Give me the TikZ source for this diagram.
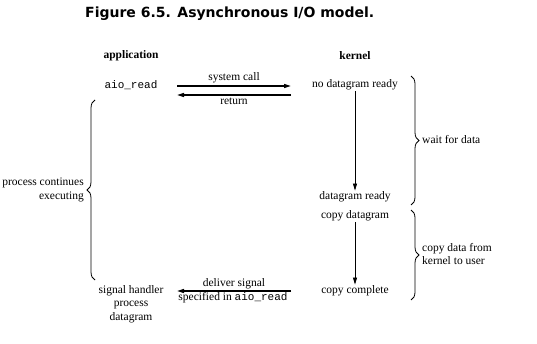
\documentclass[tikz,border=0pt]{standalone}
\usepackage{fontspec}
\setmainfont{Liberation Serif}
\setmonofont{Liberation Mono}
\newfontfamily\titlefont{DejaVu Sans}
\usetikzlibrary{arrows.meta,decorations.pathreplacing}

\begin{document}
\begin{tikzpicture}[x=1pt,y=-1pt,font=\fontsize{11.5}{13.5}\selectfont,>={Triangle[length=7pt,width=4pt]},
  txt/.style={inner sep=1pt,align=center},
  head/.style={inner sep=1pt,font=\fontsize{11.5}{13.5}\selectfont\bfseries},
  call/.style={->,line width=1.3pt},
  flow/.style={->,line width=0.7pt},
  brc/.style={decorate,decoration={brace,amplitude=8pt},line width=0.8pt}]
\useasboundingbox (0,0) rectangle (537,344);
\node[anchor=west,inner sep=0pt,font=\fontsize{14}{16}\titlefont\bfseries] (title) at (85,14)
  {Figure 6.5. Asynchronous I/O model.};
% column heads
\node[head] (app) at (131,56) {application};
\node[head] (kern) at (355,56) {kernel};
% application side
\node[txt] (aio) at (131,85) {\fontsize{11}{13}\ttfamily aio\_read};
\node[txt] (handler) at (131,304) {signal handler\\ process\\ datagram};
% kernel side
\node[txt] (nodata) at (355,85) {no datagram ready};
\node[txt] (dready) at (355,197) {datagram ready};
\node[txt] (copyd) at (355,216) {copy datagram};
\node[txt] (copyc) at (355,291) {copy complete};
\draw[flow] (nodata) -- (dready);
\draw[flow] (copyd) -- (copyc);
% system call / return
\coordinate (scL) at (177,86);
\coordinate (scR) at (291,86);
\coordinate (rtL) at (177,95);
\coordinate (rtR) at (291,95);
\draw[call] (scL) -- (scR) node[txt,midway,above=1pt] (sclab) {system call};
\draw[call] (rtR) -- (rtL) node[txt,midway,below=1pt] (rtlab) {return};
% signal delivery
\coordinate (sgL) at (177,291);
\coordinate (sgR) at (291,291);
\draw[call] (sgR) -- (sgL);
\node[txt] (sglab1) at (234,284) {deliver signal};
\node[txt] (sglab2) at (233,298) {specified in {\fontsize{11}{13}\ttfamily aio\_read}};
% braces
\draw[brc] (95,280) -- (95,100);
\node[txt,anchor=east,align=right] (cont) at (85,190) {process continues\\ executing};
\draw[brc] (411,76) -- (411,205);
\node[txt,anchor=west] (wait) at (421,140) {wait for data};
\draw[brc] (411,210) -- (411,300);
\node[txt,anchor=west,align=left] (cpy) at (421,254) {copy data from\\ kernel to user};
\end{tikzpicture}
\end{document}
